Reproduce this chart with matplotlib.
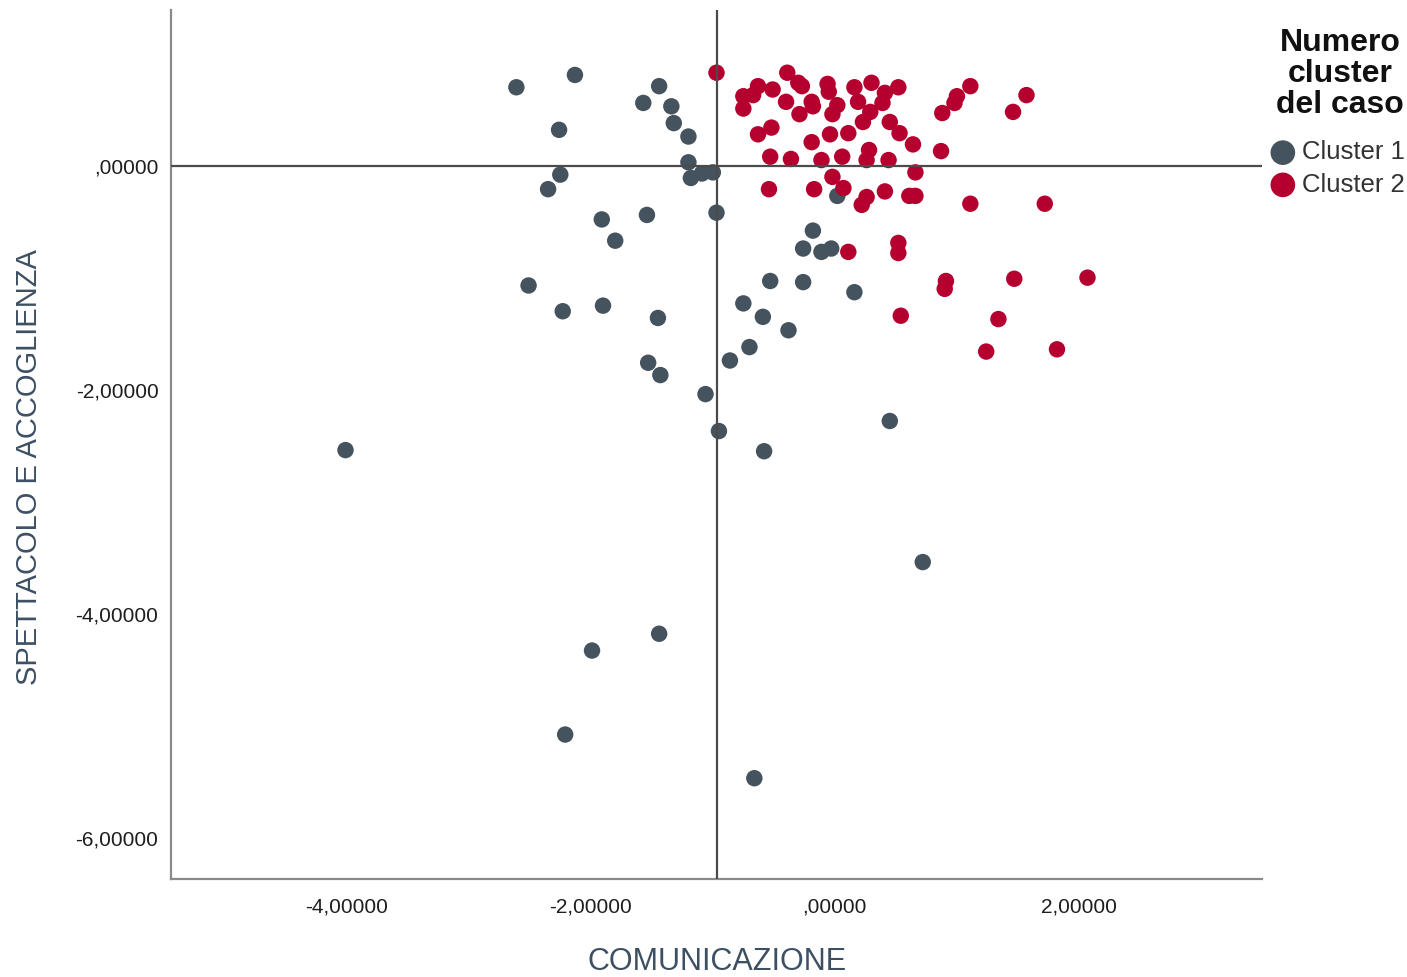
import matplotlib
matplotlib.use("Agg")
import matplotlib.pyplot as plt
from matplotlib.ticker import FuncFormatter, FixedLocator

plt.rcParams['font.family'] = ['Liberation Sans', 'DejaVu Sans']

# Cluster 1 cases: (COMUNICAZIONE, SPETTACOLO E ACCOGLIENZA)
cluster1_x = [-2.61, -2.13, -2.26, -1.44, -1.57, -1.34, -1.32, -1.20, -1.20, -1.18,
              -1.09, -1.00, -2.25, -2.35, -1.91, -1.54, -1.80, -0.97, -2.51, -2.23,
              -1.90, -1.45, -1.53, -1.43, -1.06, -0.53, -0.75, -0.59, -0.70, -0.86,
              -0.18, -0.26, -0.11, -0.03, -0.26, 0.16, -0.38, 0.02, -4.01, -0.95,
              -0.58, 0.45, 0.72, -1.44, -1.99, -2.21, -0.66]
cluster1_y = [0.70, 0.81, 0.32, 0.71, 0.56, 0.53, 0.38, 0.26, 0.03, -0.11,
              -0.07, -0.06, -0.08, -0.21, -0.48, -0.44, -0.67, -0.42, -1.07, -1.30,
              -1.25, -1.36, -1.76, -1.87, -2.04, -1.03, -1.23, -1.35, -1.62, -1.74,
              -0.58, -0.74, -0.77, -0.74, -1.04, -1.13, -1.47, -0.27, -2.54, -2.37,
              -2.55, -2.28, -3.54, -4.18, -4.33, -5.08, -5.47]

# Cluster 2 cases
cluster2_x = [-0.97, -0.39, -0.63, -0.75, -0.67, -0.75, -0.51, -0.30, -0.27, -0.40,
              -0.19, -0.18, -0.29, -0.06, -0.05, 0.16, 0.19, 0.30, 0.41, 0.39,
              0.52, 0.02, -0.02, 0.29, 0.23, 0.45, 0.53, 0.64, -0.63, -0.52,
              -0.19, -0.04, 0.11, 0.28, 0.26, -0.53, -0.36, -0.11, 0.06, 0.44,
              0.66, -0.02, 0.07, -0.54, -0.17, 0.26, 0.22, 0.41, 0.61, 0.66,
              0.88, 0.87, 1.00, 0.98, 1.11, 1.57, 1.46, 1.11, 1.72, 0.11,
              0.52, 0.52, 0.91, 0.90, 0.54, 1.47, 2.07, 1.34, 1.24, 1.82]
cluster2_y = [0.83, 0.83, 0.71, 0.62, 0.63, 0.51, 0.68, 0.74, 0.71, 0.57,
              0.57, 0.53, 0.46, 0.73, 0.66, 0.70, 0.57, 0.74, 0.65, 0.56,
              0.70, 0.54, 0.46, 0.48, 0.39, 0.39, 0.29, 0.19, 0.28, 0.34,
              0.21, 0.28, 0.29, 0.14, 0.05, 0.08, 0.06, 0.05, 0.08, 0.05,
              -0.06, -0.10, -0.20, -0.21, -0.21, -0.28, -0.35, -0.23, -0.27, -0.27,
              0.47, 0.13, 0.62, 0.56, 0.71, 0.63, 0.48, -0.34, -0.34, -0.77,
              -0.69, -0.78, -1.03, -1.10, -1.34, -1.01, -1.00, -1.37, -1.66, -1.64]

legend_labels = ["Cluster 1", "Cluster 2"]
legend_title = "Numero\ncluster\ndel caso"
x_label = "COMUNICAZIONE"
y_label = "SPETTACOLO E ACCOGLIENZA"
x_ticks = [-4, -2, 0, 2]
y_ticks = [0, -2, -4, -6]
vertical_ref = -0.97
horizontal_ref = 0.0

color1 = "#45535f"
color2 = "#b5002f"
label_color = "#3d5063"

W, H = 1407, 977
fig = plt.figure(figsize=(W / 100, H / 100), dpi=100)
ax = fig.add_axes([171 / W, 1 - 879 / H, (1262 - 171) / W, (879 - 10) / H])

ax.scatter(cluster1_x, cluster1_y, s=140, color=color1, edgecolors='none',
           label=legend_labels[0], zorder=2)
ax.scatter(cluster2_x, cluster2_y, s=140, color=color2, edgecolors='none',
           label=legend_labels[1], zorder=3)

ax.axhline(horizontal_ref, color="#4b4b4b", lw=1.6, zorder=4)
ax.axvline(vertical_ref, color="#4b4b4b", lw=1.6, zorder=4)

ax.set_xlim(-5.44, 3.50)
ax.set_ylim(-6.37, 1.39)


def spss_fmt(v, pos=None):
    s = f"{v:.5f}".replace(".", ",")
    if s.startswith("0,"):
        s = s[1:]
    elif s.startswith("-0,"):
        s = s[2:]
    return s


ax.xaxis.set_major_locator(FixedLocator(x_ticks))
ax.yaxis.set_major_locator(FixedLocator(y_ticks))
ax.xaxis.set_major_formatter(FuncFormatter(spss_fmt))
ax.yaxis.set_major_formatter(FuncFormatter(spss_fmt))
ax.tick_params(axis='both', length=0, labelsize=15, colors="#1e1e1e")
ax.tick_params(axis='x', pad=13)
ax.tick_params(axis='y', pad=9)

for side in ("top", "right"):
    ax.spines[side].set_visible(False)
for side in ("left", "bottom"):
    ax.spines[side].set_color("#8a8a8a")
    ax.spines[side].set_linewidth(1.6)

fig.text(717 / W, 1 - 962 / H, x_label, ha='center', va='center',
         fontsize=22, color=label_color)
fig.text(29 / W, 1 - 467 / H, y_label, ha='center', va='center',
         rotation=90, fontsize=21, color=label_color)

# legend title, centred above the entries
fig.text(1340 / W, 1 - 74 / H, legend_title, ha='center', va='center',
         multialignment='center', fontsize=23, fontweight='bold',
         linespacing=1.06, color="#111111")

leg = ax.legend(loc='center left', bbox_to_anchor=(1270 / W, 1 - 168.5 / H),
                bbox_transform=fig.transFigure, frameon=False,
                fontsize=18.5, markerscale=1.5,
                handletextpad=0.25, labelspacing=0.32, borderpad=0,
                handlelength=1.0, borderaxespad=0)
for t in leg.get_texts():
    t.set_color("#333333")

fig.savefig("out.png", dpi=100, facecolor="white")
